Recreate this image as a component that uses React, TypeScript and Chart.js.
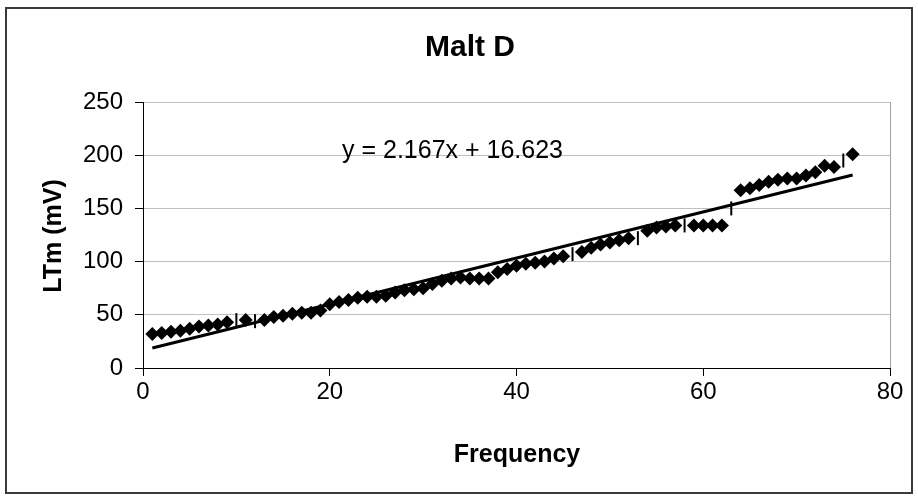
import React, { useEffect, useRef } from "react";
import { Chart, registerables } from "chart.js";

Chart.register(...registerables);

const TITLE = "Malt D";
const X_TITLE = "Frequency";
const Y_TITLE = "LTm (mV)";

// Diamond-marker observations
const freqX = [
  1, 2, 3, 4, 5, 6, 7, 8, 9, 11, 13, 14, 15, 16, 17, 18, 19, 20, 21, 22, 23, 24, 25, 26, 27, 28, 29, 30,
  31, 32, 33, 34, 35, 36, 37, 38, 39, 40, 41, 42, 43, 44, 45, 47, 48, 49, 50, 51, 52, 54, 55, 56, 57,
  59, 60, 61, 62, 64, 65, 66, 67, 68, 69, 70, 71, 72, 73, 74, 76,
];
const ltmY = [
  32, 33, 34, 35, 37, 39, 40, 41, 43, 45, 45, 48, 49, 51, 52, 52, 54, 60, 62, 64, 66, 67, 67, 68, 71, 73,
  74, 75, 79, 82, 84, 85, 84, 84, 84, 90, 93, 96, 98, 99, 100, 103, 105, 109, 113, 116, 118, 120, 122,
  129, 132, 133, 134, 134, 134, 134, 134, 167, 169, 172, 175, 177, 178, 178, 181, 184, 190, 189, 201,
];

// Short vertical-dash markers
const dashX = [10, 12, 46, 53, 58, 63, 75];
const dashY = [45, 44, 107, 122, 134, 150, 195];

// Linear trendline
const SLOPE = 2.167;
const INTERCEPT = 16.623;
const TREND_FROM = 1;
const TREND_TO = 76;
const EQUATION = "y = 2.167x + 16.623";

const X_TICKS = [0, 20, 40, 60, 80];
const Y_TICKS = [0, 50, 100, 150, 200, 250];

const FONT = "'Liberation Sans', Arial, sans-serif";

export default function App() {
  const ref = useRef<HTMLCanvasElement | null>(null);

  useEffect(() => {
    const canvas = ref.current;
    if (!canvas) return;

    const decor = {
      id: "decor",
      beforeDraw(chart: any) {
        const ctx = chart.ctx;
        ctx.save();
        ctx.fillStyle = "#ffffff";
        ctx.fillRect(0, 0, chart.width, chart.height);
        ctx.restore();
      },
      afterDraw(chart: any) {
        const ctx = chart.ctx;
        const a = chart.chartArea;
        ctx.save();
        // outer border
        ctx.strokeStyle = "#3a3a3a";
        ctx.lineWidth = 2;
        ctx.strokeRect(6, 8, 906, 485);
        // right plot border
        ctx.strokeStyle = "#a0a0a0";
        ctx.lineWidth = 1;
        ctx.beginPath();
        ctx.moveTo(Math.round(a.right) + 0.5, a.top);
        ctx.lineTo(Math.round(a.right) + 0.5, a.bottom);
        ctx.stroke();
        // title
        ctx.fillStyle = "#000";
        ctx.textAlign = "center";
        ctx.textBaseline = "middle";
        ctx.font = `bold 30px ${FONT}`;
        ctx.fillText(TITLE, 470, 48);
        // x title
        ctx.font = `bold 25px ${FONT}`;
        ctx.fillText(X_TITLE, 517, 455);
        // y title
        ctx.save();
        ctx.translate(54, 236);
        ctx.rotate(-Math.PI / 2);
        ctx.fillText(Y_TITLE, 0, 0);
        ctx.restore();
        // equation
        ctx.font = `25px ${FONT}`;
        ctx.textAlign = "left";
        ctx.textBaseline = "alphabetic";
        ctx.fillText(EQUATION, 342, 158);
        ctx.restore();
      },
    };

    const points = freqX.map((x, i) => ({ x, y: ltmY[i] }));
    const dashes = dashX.map((x, i) => ({ x, y: dashY[i] }));
    const trend = [TREND_FROM, TREND_TO].map((x) => ({ x, y: SLOPE * x + INTERCEPT }));

    const chart = new Chart(canvas, {
      type: "scatter",
      data: {
        datasets: [
          {
            type: "line",
            label: "Linear",
            data: trend,
            borderColor: "#000",
            borderWidth: 3,
            pointRadius: 0,
            fill: false,
            order: 0,
          },
          {
            label: "Dash",
            data: dashes,
            pointStyle: "line",
            rotation: 90,
            pointRadius: 7,
            borderColor: "#000",
            borderWidth: 2,
            backgroundColor: "#000",
            order: 1,
          },
          {
            label: "LTm",
            data: points,
            pointStyle: "rectRot",
            pointRadius: 7,
            backgroundColor: "#000",
            borderColor: "#000",
            borderWidth: 0,
            order: 2,
          },
        ],
      },
      options: {
        responsive: false,
        animation: false,
        events: [],
        layout: { padding: { left: 10, top: 102, right: 28, bottom: 10 } },
        plugins: {
          legend: { display: false },
          title: { display: false },
          tooltip: { enabled: false },
        },
        scales: {
          x: {
            type: "linear",
            min: 0,
            max: 80,
            afterFit: (s: any) => {
              s.height = 121;
            },
            afterBuildTicks: (s: any) => {
              s.ticks = X_TICKS.map((v) => ({ value: v }));
            },
            grid: {
              drawOnChartArea: false,
              drawTicks: true,
              tickLength: 8,
              tickColor: "#000",
              color: "#000",
            },
            border: { display: true, color: "#000", width: 1 },
            ticks: {
              color: "#000",
              font: { family: FONT, size: 24 },
              padding: 2,
              maxRotation: 0,
            },
          },
          y: {
            type: "linear",
            min: 0,
            max: 250,
            afterFit: (s: any) => {
              s.width = 133;
            },
            afterBuildTicks: (s: any) => {
              s.ticks = Y_TICKS.map((v) => ({ value: v }));
            },
            grid: {
              color: (c: any) => (c.tick && c.tick.value === 0 ? "rgba(0,0,0,0)" : "#c0c0c0"),
              lineWidth: 1,
              drawTicks: true,
              tickLength: 8,
              tickColor: "#000",
            },
            border: { display: true, color: "#000", width: 1 },
            ticks: {
              color: "#000",
              font: { family: FONT, size: 24 },
              padding: 12,
            },
          },
        },
      },
      plugins: [decor],
    });

    return () => chart.destroy();
  }, []);

  return (
    <canvas
      ref={ref}
      width={918}
      height={499}
      style={{ position: "absolute", left: 0, top: 0, display: "block" }}
    />
  );
}
